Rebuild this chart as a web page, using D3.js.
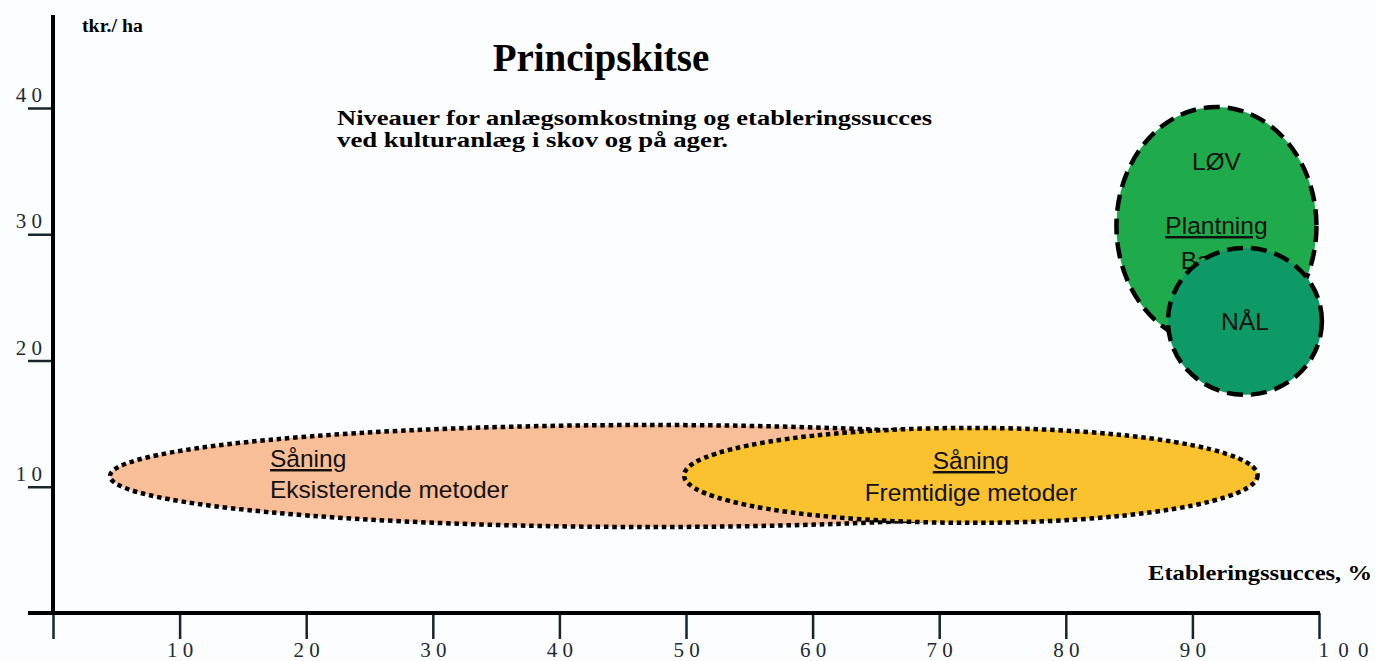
<!DOCTYPE html>
<html>
<head>
<meta charset="utf-8">
<script src="https://cdn.jsdelivr.net/npm/d3@7"></script>
<style>
  body { margin: 0; background: #fcfdfe; }
  svg { display: block; }
  .tick text { font-family: "Liberation Serif", serif; font-size: 21px; fill: #1d2b33; }
  .zone-label { font-family: "Liberation Sans", Arial, sans-serif; font-size: 24.5px; fill: #111; }
  .serif-bold { font-family: "Liberation Serif", serif; font-weight: bold; fill: #000; }
</style>
</head>
<body>
<svg id="chart" width="1375" height="661"></svg>
<script>
// Zones on the sketch: centre and half-extent in axis units
const zoneNames = ["Eksisterende", "Fremtidige", "LØV", "NÅL"]
const centerX = [47.15, 72.5, 91.9, 94.15]
const centerY = [10.85, 10.9, 30.65, 23.1]
const spreadX = [42.65, 22.65, 7.9, 6.08]
const spreadY = [4.04, 3.76, 9.43, 5.82]
const zoneFill = ["#f8be97", "#fac22f", "#1fab4b", "#0d9a66"]
const zoneLine = ["dot", "dot", "dash", "dash"]

const xTicks = [0, 10, 20, 30, 40, 50, 60, 70, 80, 90, 100]
const yTicks = [10, 20, 30, 40]

const titleText = "Principskitse"
const subtitleLines = ["Niveauer for anlægsomkostning og etableringssucces",
                       "ved kulturanlæg i skov og på ager."]
const subtitleWidths = [595, 391]
const yAxisTitle = "tkr./ ha"
const xAxisTitle = "Etableringssucces, %"

var svg = d3.select("#chart")

var x = d3.scaleLinear().domain([0, 100]).range([53, 1319])
var y = d3.scaleLinear().domain([0, 40]).range([613, 108])

function spaced(d) {
  // the original prints the digits apart: "1 0", "1 0 0"
  return String(d).split("").join(" ")
}

// zones, drawn in order so later ones sit on top
var zones = svg.append("g")

function drawZone(i) {
  zones.append("ellipse")
    .attr("cx", x(centerX[i]))
    .attr("cy", y(centerY[i]))
    .attr("rx", x(spreadX[i]) - x(0))
    .attr("ry", y(0) - y(spreadY[i]))
    .attr("fill", zoneFill[i])
    .attr("stroke", "#000")
    .attr("stroke-width", 4.5)
    .attr("stroke-dasharray", zoneLine[i] == "dot" ? "4.5 3.8" : "16 8")
}

function label(px, py, txt, anchor, underline) {
  zones.append("text")
    .attr("class", "zone-label")
    .attr("x", px)
    .attr("y", py)
    .attr("text-anchor", anchor)
    .style("text-decoration", underline ? "underline" : null)
    .text(txt)
}

drawZone(0)
label(270, 467, "Såning", "start", true)
label(270, 498, "Eksisterende metoder", "start", false)

drawZone(1)
label(x(centerX[1]), 469, "Såning", "middle", true)
label(x(centerX[1]), 501, "Fremtidige metoder", "middle", false)

drawZone(2)
label(x(centerX[2]), 170, "LØV", "middle", false)
label(x(centerX[2]), 234, "Plantning", "middle", true)
label(x(centerX[2]) + 1, 269, "Barrod", "middle", false)

drawZone(3)
label(x(centerX[3]), 330, "NÅL", "middle", false)

// axes
var xAxis = d3.axisBottom(x)
  .tickValues(xTicks)
  .tickSize(26)
  .tickPadding(3)
  .tickFormat(function(d) { return d === 0 ? "" : spaced(d) })

var gx = svg.append("g")
  .attr("transform", "translate(0," + y(0) + ")")
  .call(xAxis)
gx.select(".domain").remove()
gx.selectAll(".tick line").attr("stroke", "#16262c").attr("stroke-width", 2.5)
gx.selectAll(".tick text")
  .filter(function(d) { return d === 100 })
  .attr("text-anchor", "start")
  .attr("dx", -1)
  .style("letter-spacing", "2px")

var yAxis = d3.axisLeft(y)
  .tickValues(yTicks)
  .tickSize(25)
  .tickFormat(spaced)

var gy = svg.append("g")
  .attr("transform", "translate(" + x(0) + ",0)")
  .call(yAxis)
gy.select(".domain").remove()
gy.selectAll(".tick line").attr("stroke", "#16262c").attr("stroke-width", 2.5)
gy.selectAll(".tick text")
  .attr("x", -11)
  .attr("dy", "-0.3em")

// thick axis lines
svg.append("line")
  .attr("x1", x(0)).attr("x2", x(0))
  .attr("y1", 15).attr("y2", y(0) + 2)
  .attr("stroke", "#000").attr("stroke-width", 4)
svg.append("line")
  .attr("x1", 28).attr("x2", x(100) + 1)
  .attr("y1", y(0)).attr("y2", y(0))
  .attr("stroke", "#000").attr("stroke-width", 4)

// texts
svg.append("text")
  .attr("class", "serif-bold")
  .attr("x", 82).attr("y", 32)
  .attr("textLength", 61)
  .attr("lengthAdjust", "spacingAndGlyphs")
  .style("font-size", "18px")
  .attr("fill", "#0f1f26")
  .text(yAxisTitle)

svg.append("text")
  .attr("class", "serif-bold")
  .attr("x", 601).attr("y", 71)
  .attr("text-anchor", "middle")
  .style("font-size", "39px")
  .text(titleText)

svg.append("g").selectAll("text")
  .data(subtitleLines)
  .enter().append("text")
  .attr("class", "serif-bold")
  .attr("x", 337)
  .attr("y", function(d, i) { return 125 + i * 22 })
  .attr("textLength", function(d, i) { return subtitleWidths[i] })
  .attr("lengthAdjust", "spacingAndGlyphs")
  .style("font-size", "20px")
  .text(function(d) { return d })

svg.append("text")
  .attr("class", "serif-bold")
  .attr("x", 1148).attr("y", 580)
  .attr("textLength", 224)
  .attr("lengthAdjust", "spacingAndGlyphs")
  .style("font-size", "22px")
  .text(xAxisTitle)
</script>
</body>
</html>
